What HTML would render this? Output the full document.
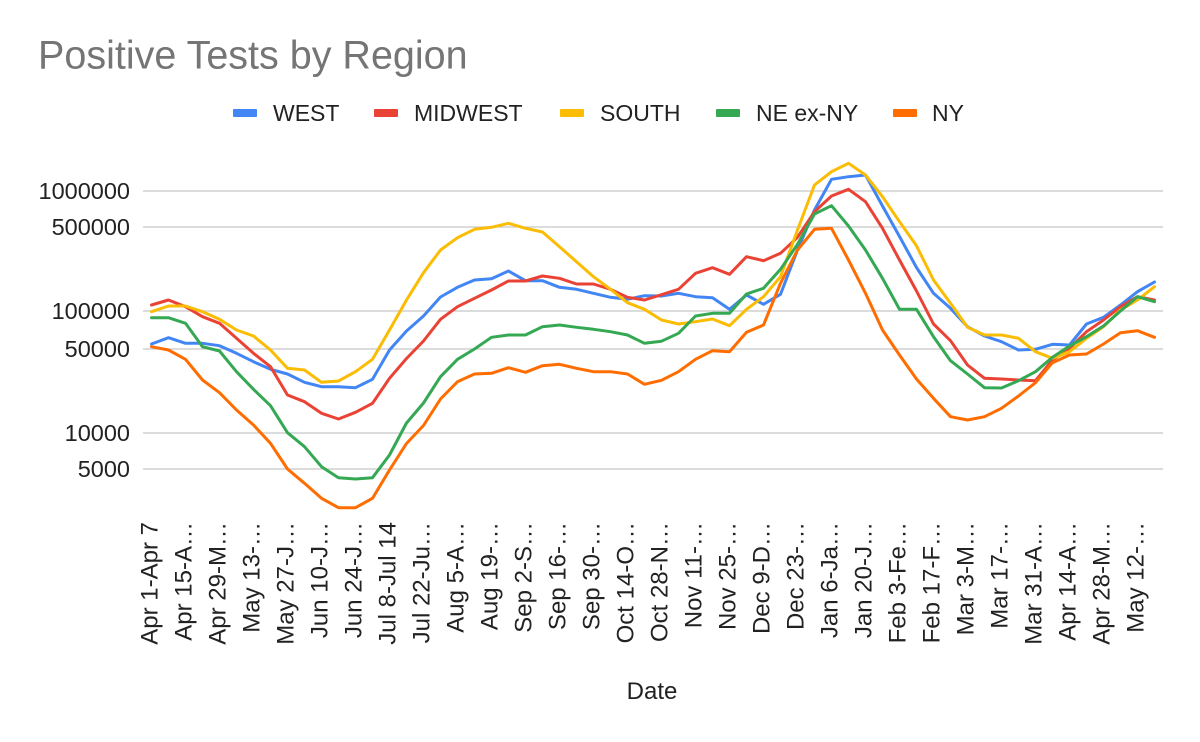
<!DOCTYPE html>
<html>
<head>
<meta charset="utf-8">
<style>
  html, body { margin: 0; padding: 0; background: #ffffff; }
  svg { display: block; }
  text { font-family: "Liberation Sans", Arial, sans-serif; }
</style>
</head>
<body>
<svg width="1200" height="742" viewBox="0 0 1200 742" xmlns="http://www.w3.org/2000/svg">
  <rect x="0" y="0" width="1200" height="742" fill="#ffffff"/>

  <!-- Title -->
  <text x="38" y="68.5" font-size="39.5" fill="#757575">Positive Tests by Region</text>

  <!-- Legend -->
  <g font-size="23" fill="#222222">
    <rect x="233" y="109" width="24" height="8" rx="1" fill="#4285F4"/>
    <text x="273" y="121">WEST</text>
    <rect x="374" y="109" width="24" height="8" rx="1" fill="#EA4335"/>
    <text x="414" y="121">MIDWEST</text>
    <rect x="560" y="109" width="24" height="8" rx="1" fill="#FBBC04"/>
    <text x="600" y="121">SOUTH</text>
    <rect x="716" y="109" width="24" height="8" rx="1" fill="#34A853"/>
    <text x="756" y="121">NE ex-NY</text>
    <rect x="893" y="109" width="24" height="8" rx="1" fill="#FF6D01"/>
    <text x="932" y="121">NY</text>
  </g>

  <!-- Gridlines -->
  <g stroke="#c6c6c6" stroke-width="1.3">
    <line x1="143" y1="191" x2="1163" y2="191"/>
    <line x1="143" y1="227" x2="1163" y2="227"/>
    <line x1="143" y1="311" x2="1163" y2="311"/>
    <line x1="143" y1="349" x2="1163" y2="349"/>
    <line x1="143" y1="433" x2="1163" y2="433"/>
    <line x1="143" y1="469" x2="1163" y2="469"/>
  </g>

  <!-- Y labels -->
  <g font-size="23.5" fill="#222222" text-anchor="end">
    <text x="130" y="199">1000000</text>
    <text x="130" y="235">500000</text>
    <text x="130" y="319">100000</text>
    <text x="130" y="357">50000</text>
    <text x="130" y="441">10000</text>
    <text x="130" y="477">5000</text>
  </g>

  <!-- Series -->
  <g fill="none" stroke-width="3" stroke-linejoin="round" stroke-linecap="round">
    <polyline stroke="#4285F4" points="151.5,344 168.5,337.7 185.5,343.3 202.5,343.3 219.5,345.7 236.5,353.3 253.5,361.7 270.5,369.3 287.5,374 304.5,382.3 321.5,386.7 338.5,386.7 355.5,387.7 372.5,379.3 389.5,350 406.5,331 423.5,316 440.5,297 457.5,287.3 474.5,280 491.5,278.7 508.5,271 525.5,280.7 542.5,280.7 559.5,287.3 576.5,289.3 593.5,293.3 610.5,297.3 627.5,299.3 644.5,295.7 661.5,296 678.5,293.3 695.5,296.7 712.5,297.7 729.5,309.3 746.5,295 763.5,304.3 780.5,294.3 797.5,250 814.5,210 831.5,179.3 848.5,176.7 865.5,175 882.5,206 899.5,236.5 916.5,267.5 933.5,293.3 950.5,308.3 967.5,326.7 984.5,336 1001.5,341.7 1018.5,350 1035.5,349.3 1052.5,344.3 1069.5,345 1086.5,324 1103.5,317.3 1120.5,305 1137.5,291.7 1154.5,282"/>
    <polyline stroke="#EA4335" points="151.5,305 168.5,300 185.5,306.7 202.5,316.7 219.5,323.3 236.5,338.3 253.5,353.3 270.5,366.7 287.5,395 304.5,401.7 321.5,413.3 338.5,419 355.5,412.3 372.5,403.3 389.5,378.3 406.5,358.5 423.5,341 440.5,319.3 457.5,306.7 474.5,298.3 491.5,290 508.5,281 525.5,281 542.5,276 559.5,278.3 576.5,284 593.5,284 610.5,289.3 627.5,297.3 644.5,300 661.5,294.7 678.5,289.3 695.5,273.3 712.5,267.7 729.5,274.3 746.5,256.7 763.5,260.7 780.5,253.3 797.5,237.3 814.5,211.7 831.5,196 848.5,189.3 865.5,201.7 882.5,228.3 899.5,260 916.5,291 933.5,324 950.5,340.7 967.5,365 984.5,378.3 1001.5,379 1018.5,380 1035.5,380.7 1052.5,360 1069.5,348.3 1086.5,331.7 1103.5,320 1120.5,306.7 1137.5,296.7 1154.5,300"/>
    <polyline stroke="#FBBC04" points="151.5,311.7 168.5,306 185.5,306 202.5,311.7 219.5,319.3 236.5,330 253.5,336 270.5,350 287.5,368.3 304.5,370 321.5,382.3 338.5,381 355.5,371.7 372.5,359.3 389.5,330 406.5,300 423.5,272.7 440.5,250 457.5,237.7 474.5,229.3 491.5,227.3 508.5,223.3 525.5,228.3 542.5,232 559.5,246.7 576.5,261.7 593.5,276.7 610.5,289.3 627.5,302.7 644.5,309.3 661.5,320 678.5,324 695.5,321.7 712.5,319 729.5,325.7 746.5,309.3 763.5,296.7 780.5,276.7 797.5,230 814.5,185 831.5,171.7 848.5,163.3 865.5,175 882.5,196.7 899.5,221.7 916.5,245.8 933.5,280 950.5,303.3 967.5,327.3 984.5,335 1001.5,335 1018.5,338.3 1035.5,351.7 1052.5,358.3 1069.5,351.7 1086.5,338.3 1103.5,326.7 1120.5,310 1137.5,300 1154.5,286.7"/>
    <polyline stroke="#34A853" points="151.5,317.7 168.5,317.7 185.5,323.3 202.5,346.7 219.5,351 236.5,371.7 253.5,389.3 270.5,405.7 287.5,432.7 304.5,446.7 321.5,466.7 338.5,477.7 355.5,479 372.5,477.7 389.5,455 406.5,423 423.5,403 440.5,376.7 457.5,359.3 474.5,349 491.5,337.3 508.5,335 525.5,335 542.5,326.7 559.5,325 576.5,327.3 593.5,329.3 610.5,331.7 627.5,335 644.5,343.3 661.5,341.2 678.5,333.3 695.5,316 712.5,313.3 729.5,313.3 746.5,294 763.5,288.3 780.5,269.3 797.5,244.3 814.5,214 831.5,205.7 848.5,226 865.5,250 882.5,278.3 899.5,309.3 916.5,309.3 933.5,336.7 950.5,360.7 967.5,374 984.5,387.7 1001.5,388 1018.5,380.7 1035.5,371.7 1052.5,357.3 1069.5,346 1086.5,336.7 1103.5,326 1120.5,311 1137.5,296.7 1154.5,301.7"/>
    <polyline stroke="#FF6D01" points="151.5,346.7 168.5,350 185.5,359.3 202.5,380 219.5,392.7 236.5,410 253.5,425 270.5,443.3 287.5,469 304.5,483.3 321.5,498.3 338.5,507.7 355.5,507.7 372.5,498.3 389.5,470 406.5,443.5 423.5,425.5 440.5,399 457.5,381.7 474.5,374 491.5,373.3 508.5,367.7 525.5,372.3 542.5,365.7 559.5,364.3 576.5,368.3 593.5,371.7 610.5,371.7 627.5,374 644.5,384.3 661.5,380.3 678.5,371.7 695.5,359.3 712.5,350.7 729.5,351.7 746.5,332.3 763.5,325 780.5,283.3 797.5,250 814.5,229.3 831.5,228.3 848.5,260 865.5,293.3 882.5,330 899.5,355 916.5,379 933.5,398.3 950.5,416.7 967.5,420 984.5,416.7 1001.5,408.3 1018.5,396 1035.5,382.7 1052.5,362.7 1069.5,355 1086.5,354 1103.5,344 1120.5,332.7 1137.5,330.7 1154.5,337.3"/>
  </g>

  <!-- X labels -->
  <g font-size="24" fill="#222222" text-anchor="end">
    <text transform="translate(157.5,522) rotate(-90)">Apr 1-Apr 7</text>
    <text transform="translate(191.5,522) rotate(-90)">Apr 15-A…</text>
    <text transform="translate(225.5,522) rotate(-90)">Apr 29-M…</text>
    <text transform="translate(259.5,522) rotate(-90)">May 13-…</text>
    <text transform="translate(293.5,522) rotate(-90)">May 27-J…</text>
    <text transform="translate(327.5,522) rotate(-90)">Jun 10-J…</text>
    <text transform="translate(361.5,522) rotate(-90)">Jun 24-J…</text>
    <text transform="translate(395.5,522) rotate(-90)">Jul 8-Jul 14</text>
    <text transform="translate(429.5,522) rotate(-90)">Jul 22-Ju…</text>
    <text transform="translate(463.5,522) rotate(-90)">Aug 5-A…</text>
    <text transform="translate(497.5,522) rotate(-90)">Aug 19-…</text>
    <text transform="translate(531.5,522) rotate(-90)">Sep 2-S…</text>
    <text transform="translate(565.5,522) rotate(-90)">Sep 16-…</text>
    <text transform="translate(599.5,522) rotate(-90)">Sep 30-…</text>
    <text transform="translate(633.5,522) rotate(-90)">Oct 14-O…</text>
    <text transform="translate(667.5,522) rotate(-90)">Oct 28-N…</text>
    <text transform="translate(701.5,522) rotate(-90)">Nov 11-…</text>
    <text transform="translate(735.5,522) rotate(-90)">Nov 25-…</text>
    <text transform="translate(769.5,522) rotate(-90)">Dec 9-D…</text>
    <text transform="translate(803.5,522) rotate(-90)">Dec 23-…</text>
    <text transform="translate(837.5,522) rotate(-90)">Jan 6-Ja…</text>
    <text transform="translate(871.5,522) rotate(-90)">Jan 20-J…</text>
    <text transform="translate(905.5,522) rotate(-90)">Feb 3-Fe…</text>
    <text transform="translate(939.5,522) rotate(-90)">Feb 17-F…</text>
    <text transform="translate(973.5,522) rotate(-90)">Mar 3-M…</text>
    <text transform="translate(1007.5,522) rotate(-90)">Mar 17-…</text>
    <text transform="translate(1041.5,522) rotate(-90)">Mar 31-A…</text>
    <text transform="translate(1075.5,522) rotate(-90)">Apr 14-A…</text>
    <text transform="translate(1109.5,522) rotate(-90)">Apr 28-M…</text>
    <text transform="translate(1143.5,522) rotate(-90)">May 12-…</text>
  </g>

  <!-- X axis title -->
  <text x="652" y="699" font-size="24" fill="#222222" text-anchor="middle">Date</text>
</svg>
</body>
</html>
